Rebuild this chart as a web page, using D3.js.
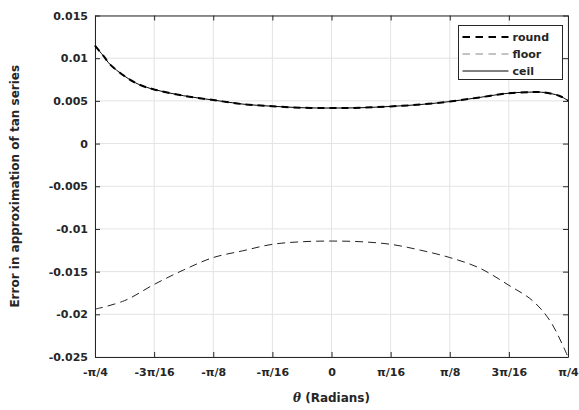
<!DOCTYPE html>
<html>
<head>
<meta charset="utf-8">
<script src="https://cdn.jsdelivr.net/npm/d3@7"></script>
<style>
  body { margin: 0; background: #fff; }
  text { font-family: "DejaVu Sans", sans-serif; font-weight: bold; fill: #262626; }
</style>
</head>
<body>
<svg id="chart"></svg>
<script>
// theta values in units of pi/16
const thetaTop = [-4, -3.85, -3.75, -3.5, -3.25, -3, -2.5, -2, -1.5, -1, -0.5, 0, 0.5, 1, 1.5, 2, 2.5, 3, 3.4, 3.6, 3.85, 4];
const roundErr = [0.01146, 0.0102, 0.0093, 0.0079, 0.0069, 0.00634, 0.0056, 0.0051, 0.00462, 0.00437, 0.0042, 0.00416,
    0.0042, 0.00435, 0.00457, 0.00492, 0.0054, 0.0059, 0.00603, 0.00598, 0.0056, 0.00504];
const ceilErr = roundErr.slice();

const thetaFloor = [-4, -3.5, -3, -2.5, -2, -1.5, -1, -0.5, 0, 0.5, 1, 1.5, 2, 2.5, 3, 3.4, 3.7, 4];
const floorErr = [-0.0194, -0.0184, -0.0165, -0.0148, -0.01335, -0.01256, -0.0118, -0.0115, -0.01142,
    -0.0115, -0.0118, -0.01248, -0.01335, -0.01457, -0.0166, -0.0184, -0.0208, -0.025];

const xTicks = [-4, -3, -2, -1, 0, 1, 2, 3, 4];
const xTickLabels = ["-\u03c0/4", "-3\u03c0/16", "-\u03c0/8", "-\u03c0/16", "0", "\u03c0/16", "\u03c0/8", "3\u03c0/16", "\u03c0/4"];
const yTicks = [0.015, 0.01, 0.005, 0, -0.005, -0.01, -0.015, -0.02, -0.025];
const yTickLabels = ["0.015", "0.01", "0.005", "0", "-0.005", "-0.01", "-0.015", "-0.02", "-0.025"];

const seriesNames = ["round", "floor", "ceil"];

const W = 579, H = 410;
const margin = {top: 15.5, right: 11, bottom: 53, left: 95};
const width = W - margin.left - margin.right;
const height = H - margin.top - margin.bottom;

const svg = d3.select("#chart").attr("width", W).attr("height", H);
const g = svg.append("g").attr("transform", `translate(${margin.left},${margin.top})`);

const x = d3.scaleLinear().domain([-4, 4]).range([0, width]);
const y = d3.scaleLinear().domain([-0.025, 0.015]).range([height, 0]);

// grid
g.append("g").selectAll("line").data(xTicks).join("line")
    .attr("x1", d => x(d)).attr("x2", d => x(d)).attr("y1", 0).attr("y2", height)
    .attr("stroke", "#e3e3e3").attr("stroke-width", 1);
g.append("g").selectAll("line").data(yTicks).join("line")
    .attr("x1", 0).attr("x2", width).attr("y1", d => y(d)).attr("y2", d => y(d))
    .attr("stroke", "#e3e3e3").attr("stroke-width", 1);

// axes
const fmtX = d => xTickLabels[xTicks.indexOf(d)];
const fmtY = d => yTickLabels[yTicks.indexOf(d)];

const xAxis = g.append("g").attr("transform", `translate(0,${height})`)
    .call(d3.axisBottom(x).tickValues(xTicks).tickFormat(fmtX).tickSizeInner(-5).tickSizeOuter(0).tickPadding(11));
const yAxis = g.append("g")
    .call(d3.axisLeft(y).tickValues(yTicks).tickFormat(fmtY).tickSizeInner(-5).tickSizeOuter(0).tickPadding(7));
const xTop = g.append("g")
    .call(d3.axisTop(x).tickValues(xTicks).tickFormat("").tickSizeInner(-5).tickSizeOuter(0));
const yRight = g.append("g").attr("transform", `translate(${width},0)`)
    .call(d3.axisRight(y).tickValues(yTicks).tickFormat("").tickSizeInner(-5).tickSizeOuter(0));

[xAxis, yAxis, xTop, yRight].forEach(a => {
    a.select(".domain").attr("stroke", "#262626").attr("stroke-width", 1);
    a.selectAll(".tick line").attr("stroke", "#262626");
    a.selectAll("text").attr("font-size", 11).attr("font-family", "DejaVu Sans, sans-serif")
        .attr("font-weight", "bold").attr("fill", "#262626");
});

// lines
const lineTop = d3.line().x((d, i) => x(thetaTop[i])).y(d => y(d)).curve(d3.curveCatmullRom);
const lineFloor = d3.line().x((d, i) => x(thetaFloor[i])).y(d => y(d)).curve(d3.curveCatmullRom);

g.append("path").datum(floorErr).attr("d", lineFloor)
    .attr("fill", "none").attr("stroke", "#222").attr("stroke-width", 1)
    .attr("stroke-dasharray", "8,5");
g.append("path").datum(roundErr).attr("d", lineTop)
    .attr("fill", "none").attr("stroke", "#000").attr("stroke-width", 2)
    .attr("stroke-dasharray", "7,5");
g.append("path").datum(ceilErr).attr("d", lineTop)
    .attr("fill", "none").attr("stroke", "#000").attr("stroke-width", 1);

// legend
const legend = svg.append("g").attr("transform", "translate(458.5,25.5)");
legend.append("rect").attr("width", 104).attr("height", 54)
    .attr("fill", "#fff").attr("stroke", "#262626").attr("stroke-width", 1);
const legendStyles = [
    {stroke: "#000", w: 2, dash: "7.5,5.5"},
    {stroke: "#888", w: 1.2, dash: "7.5,5.5"},
    {stroke: "#000", w: 1, dash: null}
];
seriesNames.forEach((name, i) => {
    const yy = 11.5 + i * 17;
    legend.append("line").attr("x1", 4).attr("x2", 50).attr("y1", yy).attr("y2", yy)
        .attr("stroke", legendStyles[i].stroke).attr("stroke-width", legendStyles[i].w)
        .attr("stroke-dasharray", legendStyles[i].dash);
    legend.append("text").attr("x", 54).attr("y", yy).attr("dy", "0.35em")
        .attr("font-size", 11).text(name);
});

// axis labels
svg.append("text")
    .attr("transform", `translate(15,${margin.top + height / 2}) rotate(-90)`)
    .attr("text-anchor", "middle").attr("font-size", 12).attr("dy", "0.35em")
    .text("Error in approximation of tan series");

const xl = svg.append("text")
    .attr("x", margin.left + width / 2).attr("y", 402)
    .attr("text-anchor", "middle").attr("font-size", 12);
xl.append("tspan").attr("font-family", "DejaVu Serif, serif").attr("font-style", "italic").text("\u03b8");
xl.append("tspan").text(" (Radians)");
</script>
</body>
</html>
